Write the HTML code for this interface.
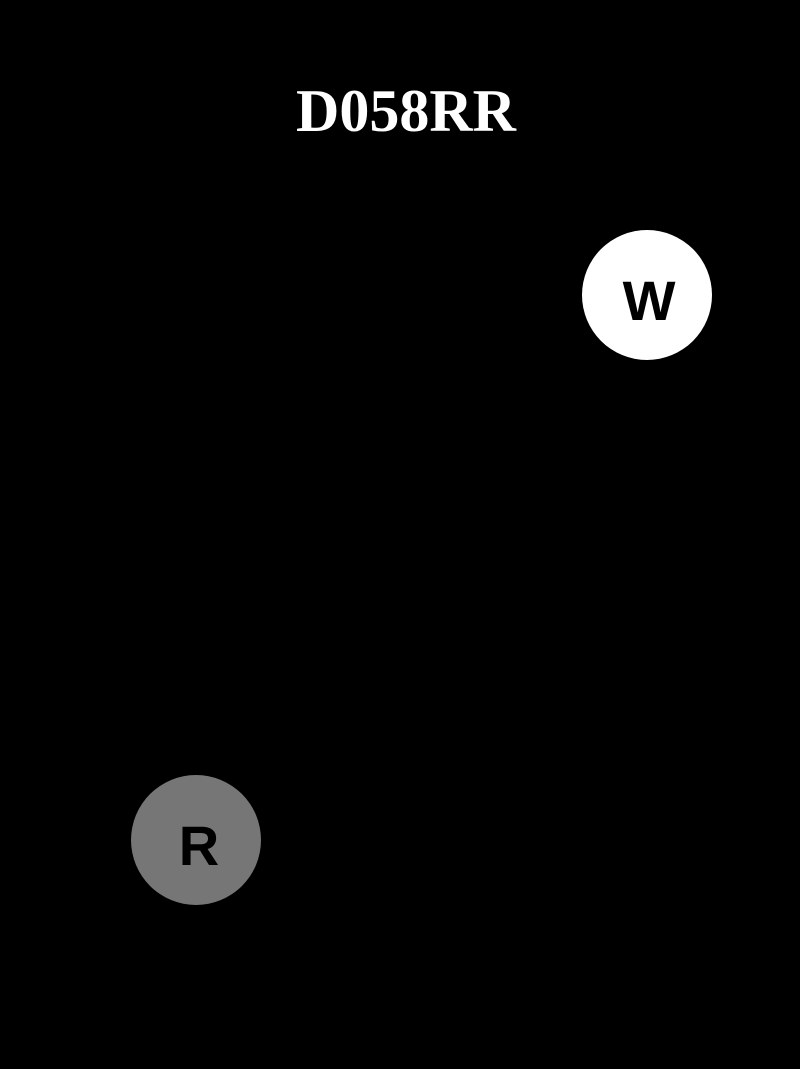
<!DOCTYPE html>
<html><head><style>
html,body{margin:0;padding:0;background:#000;}
body{width:800px;height:1069px;position:relative;overflow:hidden;}
.t{position:absolute;left:0;width:812px;text-align:center;top:71px;font:bold 60px "Liberation Serif",serif;color:#fff;line-height:80px;}
.c{position:absolute;width:130px;height:130px;border-radius:50%;text-align:center;line-height:130px;font:bold 56px "Liberation Sans",sans-serif;color:#000;}
</style></head><body>
<div class="t">D058RR</div>
<div class="c" style="left:582px;top:230px;background:#fff;line-height:142px;padding-left:4px;box-sizing:border-box;">W</div>
<div class="c" style="left:131px;top:775px;background:#767676;line-height:142px;padding-left:6px;box-sizing:border-box;">R</div>
</body></html>
